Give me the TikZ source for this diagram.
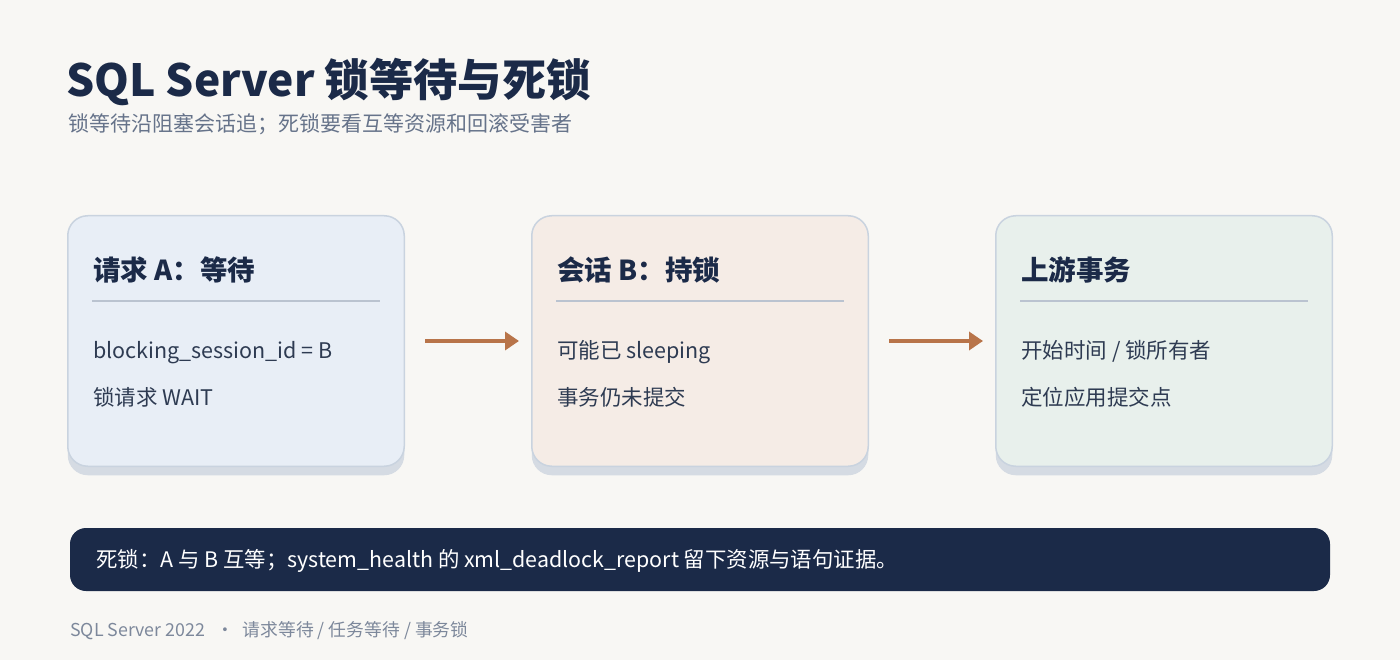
\documentclass[tikz,border=0pt]{standalone}
\usepackage{fontspec}
\setmainfont{Noto Sans CJK SC}
\usetikzlibrary{positioning}
\usetikzlibrary{arrows.meta}
\usetikzlibrary{shadows}

\definecolor{bgc}{HTML}{F8F7F4}
\definecolor{inkc}{HTML}{1B2A48}
\definecolor{subc}{HTML}{66738A}
\definecolor{bodyc}{HTML}{2E3B52}
\definecolor{edgec}{HTML}{C9D3DF}
\definecolor{sepc}{HTML}{BAC3D0}
\definecolor{shadc}{HTML}{D5DBE3}
\definecolor{bluec}{HTML}{E8EEF6}
\definecolor{sandc}{HTML}{F5ECE6}
\definecolor{mintc}{HTML}{E8F0EC}
\definecolor{flowc}{HTML}{B87449}
\definecolor{footc}{HTML}{7D889B}

\begin{document}
\begin{tikzpicture}[x=1pt,y=-1pt,
    card/.style={draw=edgec, line width=1.5pt, rounded corners=20pt,
      minimum width=336.5pt, minimum height=250.5pt, inner sep=0pt,
      drop shadow={shadow xshift=0pt, shadow yshift=-9pt, fill=shadc, opacity=1}},
    head/.style={anchor=base west, inner sep=0pt, text=inkc,
      font=\fontsize{27.5}{32}\selectfont\bfseries},
    line/.style={anchor=base west, inner sep=0pt, text=bodyc,
      font=\fontsize{21.5}{26}\selectfont},
    sep/.style={draw=sepc, line width=2pt},
    flow/.style={draw=flowc, line width=4pt, shorten <=20pt, shorten >=12pt,
      -{Triangle[length=14pt,width=18pt]}}]
  \useasboundingbox (0,0) rectangle (1400,660);
  \fill[bgc] (0,0) rectangle (1400,660);

  \node[anchor=base west, inner sep=0pt, text=inkc,
    font=\fontsize{44.3}{50}\selectfont\bfseries] (title) at (66,97) {SQL Server 锁等待与死锁};
  \node[anchor=base west, inner sep=0pt, text=subc,
    font=\fontsize{21}{25}\selectfont] (subtitle) at (68,132) {锁等待沿阻塞会话追；死锁要看互等资源和回滚受害者};

  \node[card, fill=bluec] (req) at (236,341) {};
  \node[card, fill=sandc, right=126pt of req] (sess) {};
  \node[card, fill=mintc, right=126pt of sess] (txn) {};

  \node[head] (reqh) at ([xshift=26pt,yshift=-66pt]req.north west) {请求 A：等待};
  \draw[sep] ([xshift=25pt,yshift=-86pt]req.north west) -- ++(288,0);
  \node[line] (req1) at ([xshift=26pt,yshift=-143pt]req.north west) {blocking\_session\_id = B};
  \node[line] (req2) at ([xshift=26pt,yshift=-190pt]req.north west) {锁请求 WAIT};

  \node[head] (sessh) at ([xshift=26pt,yshift=-66pt]sess.north west) {会话 B：持锁};
  \draw[sep] ([xshift=25pt,yshift=-86pt]sess.north west) -- ++(288,0);
  \node[line] (sess1) at ([xshift=26pt,yshift=-143pt]sess.north west) {可能已 sleeping};
  \node[line] (sess2) at ([xshift=26pt,yshift=-190pt]sess.north west) {事务仍未提交};

  \node[head] (txnh) at ([xshift=26pt,yshift=-66pt]txn.north west) {上游事务};
  \draw[sep] ([xshift=25pt,yshift=-86pt]txn.north west) -- ++(288,0);
  \node[line] (txn1) at ([xshift=26pt,yshift=-143pt]txn.north west) {开始时间 / 锁所有者};
  \node[line] (txn2) at ([xshift=26pt,yshift=-190pt]txn.north west) {定位应用提交点};

  \draw[flow] (req) -- (sess);
  \draw[flow] (sess) -- (txn);

  \node[fill=inkc, rounded corners=16pt, minimum width=1260pt, minimum height=63pt,
    inner sep=0pt] (bar) at (700,559.5) {};
  \node[anchor=west, inner sep=0pt, text=white, font=\fontsize{21.4}{25}\selectfont]
    (bartext) at (96,561) {死锁：A 与 B 互等；system\_health 的 xml\_deadlock\_report 留下资源与语句证据。};

  \node[anchor=west, inner sep=0pt, text=footc, font=\fontsize{17.8}{21}\selectfont]
    (foot) at (70,631) {SQL Server 2022 \ \ ·\ \ 请求等待 / 任务等待 / 事务锁};
\end{tikzpicture}
\end{document}
